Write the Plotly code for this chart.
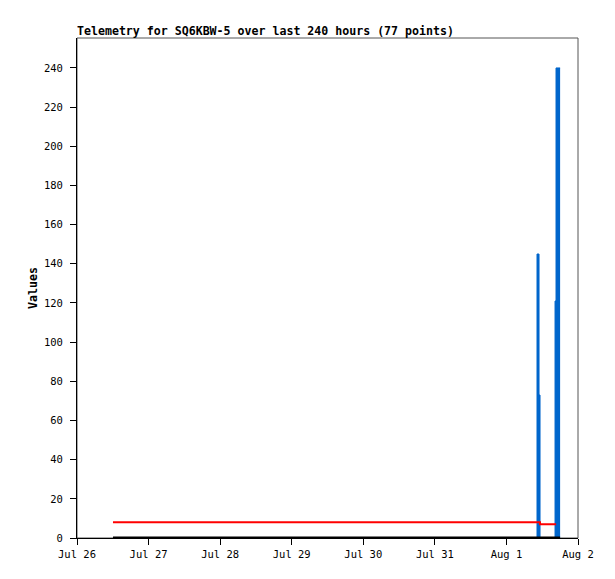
import plotly.graph_objects as go

# Data: {{{
red_times = ['2024-07-26 12:04', '2024-08-01 10:50', '2024-08-01 11:16', '2024-08-01 16:40']
red_values = [8, 8, 7, 7]

black_times = ['2024-07-26 12:04', '2024-08-01 18:00']
black_values = [0, 0]

blue_times = ['2024-07-26 12:04', '2024-08-01 10:15', '2024-08-01 10:56', '2024-08-01 11:16',
              '2024-08-01 16:18', '2024-08-01 16:38', '2024-08-01 18:00']
blue_values = [0, 145, 73, 0, 121, 240, 240]

x_tick_dates = ['2024-07-26', '2024-07-27', '2024-07-28', '2024-07-29',
                '2024-07-30', '2024-07-31', '2024-08-01', '2024-08-02']
x_tick_labels = ['Jul 26', 'Jul 27', 'Jul 28', 'Jul 29', 'Jul 30', 'Jul 31', 'Aug 1', 'Aug 2']
y_ticks = [0, 20, 40, 60, 80, 100, 120, 140, 160, 180, 200, 220, 240]
#}}}

mono = 'DejaVu Sans Mono'
# the page body has an 8px margin, so the figure is a bit smaller than the window
W, H = 607, 571
fig = go.Figure()
# Blue spikes as a filled step area: {{{
fig.add_scatter(
    x=blue_times, y=blue_values,
    mode='lines', line=dict(color='#0066cc', width=1, shape='hv'),
    fill='tozeroy', fillcolor='#0066cc',
    showlegend=False,
)
#}}}
# Red line: {{{
fig.add_scatter(
    x=red_times, y=red_values,
    mode='lines', line=dict(color='#ff0000', width=2, shape='hv'),
    showlegend=False,
)
#}}}
# Black line at zero: {{{
fig.add_scatter(
    x=black_times, y=black_values,
    mode='lines', line=dict(color='black', width=3, shape='hv'),
    showlegend=False,
)
#}}}
# Grey frame round the plot area: {{{
fig.add_shape(type='rect', xref='paper', yref='paper', x0=0, y0=0, x1=1, y1=1,
              line=dict(color='#555555', width=1), layer='below')
#}}}
# Layout: {{{
fig.update_layout(
    width=W, height=H,
    margin=dict(l=69, r=37, t=30, b=41),
    plot_bgcolor='white', paper_bgcolor='white',
    title=dict(text='<b>Telemetry for SQ6KBW-5 over last 240 hours (77 points)</b>',
               x=69/W, xanchor='left', y=1-23/H, yanchor='middle',
               font=dict(family=mono, size=11.6, color='black')),
    xaxis=dict(range=['2024-07-26', '2024-08-02'], tickvals=x_tick_dates, ticktext=x_tick_labels,
               showgrid=False, zeroline=False, showline=True, linecolor='black', linewidth=1,
               ticks='outside', ticklen=6, tickcolor='black',
               tickfont=dict(family=mono, size=10.5, color='black')),
    yaxis=dict(range=[0, 255.3], tickvals=y_ticks,
               showgrid=False, zeroline=False, showline=True, linecolor='black', linewidth=1,
               ticks='outside', ticklen=6, tickcolor='black', ticklabelstandoff=5,
               tickfont=dict(family=mono, size=10.5, color='black'),
               title=dict(text='<b>Values</b>', standoff=3,
                          font=dict(family=mono, size=11.6, color='black'))),
)
#}}}
fig.write_html('out.html')
